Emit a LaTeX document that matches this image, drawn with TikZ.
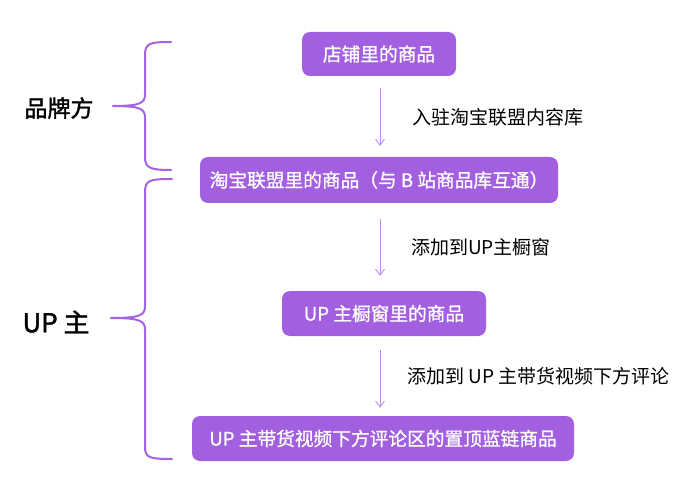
\documentclass[tikz,border=0pt]{standalone}
\usepackage{fontspec}
\setmainfont{Noto Sans CJK SC}
\newfontfamily\medfont[FakeBold=1]{Noto Sans CJK SC}
\newfontfamily\grpfont[FakeBold=1.6]{Noto Sans CJK SC}
\usetikzlibrary{arrows.meta}
\definecolor{boxc}{HTML}{A260E0}
\definecolor{arrc}{HTML}{BA8CEA}
\definecolor{brc}{HTML}{A466E0}
\tikzset{
  box/.style={fill=boxc, rounded corners=8pt, text=white, inner sep=0pt, font=\medfont\fontsize{18.7}{20}\selectfont},
  arr/.style={draw=arrc, line width=0.9pt, -{Straight Barb[length=6pt,width=9pt]}},
  lab/.style={anchor=west, inner sep=0pt, font=\fontsize{19}{21}\selectfont},
  brace/.style={draw=brc, line width=2pt, line cap=round},
}
\begin{document}
\begin{tikzpicture}[x=1pt,y=-1pt]
\fill[white] (0,0) rectangle (692,494);
\useasboundingbox (0,0) rectangle (692,494);
\node[box, minimum width=154pt, minimum height=44pt] (b1) at (379,54) {店铺里的商品};
\node[box, minimum width=358pt, minimum height=46pt] (b2) at (379,180) {淘宝联盟里的商品（与 B 站商品库互通）};
\node[box, minimum width=204pt, minimum height=45pt] (b3) at (384,313.5) {UP 主橱窗里的商品};
\node[box, minimum width=382pt, minimum height=45pt] (b4) at (383,438.5) {UP 主带货视频下方评论区的置顶蓝链商品};
\coordinate (ax) at (380,0);
\draw[arr, shorten <=12pt, shorten >=11pt] (b1.south -| ax) -- (b2.north -| ax);
\draw[arr, shorten <=16pt, shorten >=15pt] (b2.south -| ax) -- (b3.north -| ax);
\draw[arr, shorten <=14pt, shorten >=8pt] (b3.south -| ax) -- (b4.north -| ax);
\node[lab] (l1) at (412,117) {入驻淘宝联盟内容库};
\node[lab] (l2) at (411,247) {添加到UP主橱窗};
\node[lab] (l3) at (407,376) {添加到 UP 主带货视频下方评论};
% braces
\draw[brace] (171,42) .. controls (150,42) and (145,43) .. (145,55) -- (145,94)
  .. controls (145,103) and (141,106) .. (113,106);
\draw[brace] (113,106) .. controls (141,106) and (145,109) .. (145,118) -- (145,157)
  .. controls (145,168) and (150,170) .. (171,170);
\draw[brace] (172,179) .. controls (150,179) and (145,180) .. (145,192) -- (145,306)
  .. controls (145,315) and (141,318) .. (111,318);
\draw[brace] (111,318) .. controls (141,318) and (145,321) .. (145,330) -- (145,447)
  .. controls (145,458) and (150,459) .. (172,459);
\node[anchor=center, inner sep=0pt, font=\grpfont\fontsize{23}{25}\selectfont] (g1) at (59,108) {品牌方};
\node[anchor=center, inner sep=0pt, font=\grpfont\fontsize{26}{28}\selectfont] (g2) at (56,322) {UP 主};
\end{tikzpicture}
\end{document}
